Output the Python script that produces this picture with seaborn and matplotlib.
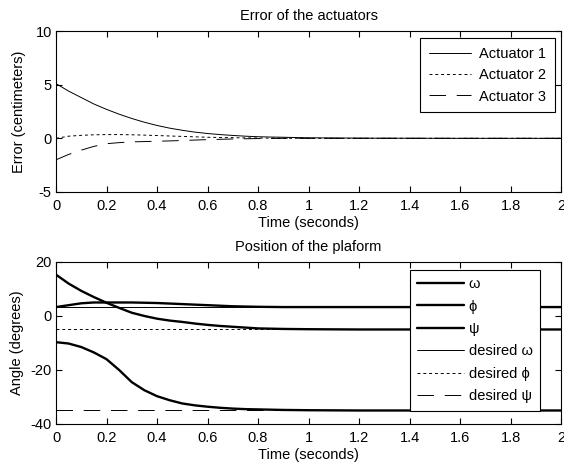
import numpy as np
import pandas as pd
import matplotlib
matplotlib.use("Agg")
import matplotlib.pyplot as plt
import seaborn as sns

# ---------------- data ----------------
t_err = [0, 0.05, 0.1, 0.15, 0.2, 0.25, 0.3, 0.35, 0.4, 0.45, 0.5, 0.55, 0.6,
         0.65, 0.7, 0.75, 0.8, 0.85, 0.9, 1.0, 1.2, 1.4, 1.6, 1.8, 2.0]
act1 = [5.1, 4.4, 3.8, 3.2, 2.7, 2.25, 1.85, 1.5, 1.2, 0.95, 0.75, 0.58, 0.45,
        0.35, 0.27, 0.2, 0.15, 0.12, 0.1, 0.05, 0.02, 0.01, 0, 0, 0]
act2 = [0, 0.2, 0.28, 0.33, 0.35, 0.35, 0.33, 0.3, 0.26, 0.22, 0.18, 0.14, 0.1,
        0.08, 0.06, 0.04, 0.03, 0.02, 0.01, 0, 0, 0, 0, 0, 0]
act3 = [-2.0, -1.5, -1.1, -0.75, -0.5, -0.4, -0.33, -0.3, -0.27, -0.24, -0.2,
        -0.16, -0.12, -0.09, -0.06, -0.04, -0.02, -0.01, 0, 0, 0, 0, 0, 0, 0]
act_labels = ["Actuator 1", "Actuator 2", "Actuator 3"]

t_pos = [0, 0.05, 0.1, 0.15, 0.2, 0.25, 0.3, 0.35, 0.4, 0.45, 0.5, 0.55, 0.6,
         0.65, 0.7, 0.75, 0.8, 0.9, 1.0, 1.2, 1.5, 2.0]
omega = [3.3, 4.0, 4.7, 5.0, 5.0, 5.0, 5.0, 4.9, 4.8, 4.6, 4.4, 4.2, 4.0,
         3.8, 3.6, 3.5, 3.4, 3.3, 3.3, 3.3, 3.3, 3.3]
phi = [15.3, 12.0, 9.3, 7.0, 4.9, 3.0, 1.2, 0.0, -1.0, -1.7, -2.2, -2.8, -3.3,
       -3.7, -4.0, -4.3, -4.6, -4.8, -4.9, -5.0, -5.0, -5.0]
psi = [-9.7, -10.2, -11.5, -13.5, -16.0, -20.0, -24.5, -27.5, -29.7, -31.2,
       -32.4, -33.1, -33.6, -34.0, -34.3, -34.5, -34.6, -34.8, -34.9, -35.0,
       -35.0, -35.0]
t_des = [0, 2.0]
des_omega = [3.3, 3.3]
des_phi = [-5.0, -5.0]
des_psi = [-35.0, -35.0]
pos_labels = ["ω", "ϕ", "ψ", "desired ω", "desired ϕ", "desired ψ"]
x_ticklabels = ["0", "0.2", "0.4", "0.6", "0.8", "1", "1.2", "1.4", "1.6", "1.8", "2"]

# ---------------- style ----------------
sns.set_style("ticks")
plt.rcParams["font.family"] = ["Liberation Sans", "DejaVu Sans"]
plt.rcParams["font.size"] = 10.5
plt.rcParams["axes.unicode_minus"] = False
plt.rcParams["xtick.direction"] = "in"
plt.rcParams["ytick.direction"] = "in"
plt.rcParams["xtick.top"] = True
plt.rcParams["ytick.right"] = True
plt.rcParams["xtick.major.size"] = 4
plt.rcParams["ytick.major.size"] = 4
plt.rcParams["xtick.major.width"] = 0.8
plt.rcParams["ytick.major.width"] = 0.8
plt.rcParams["xtick.major.pad"] = 5
plt.rcParams["ytick.major.pad"] = 3
plt.rcParams["axes.edgecolor"] = "black"
plt.rcParams["axes.linewidth"] = 0.8
plt.rcParams["xtick.color"] = "black"
plt.rcParams["ytick.color"] = "black"
plt.rcParams["text.color"] = "black"
plt.rcParams["axes.labelcolor"] = "black"

fig = plt.figure(figsize=(5.64, 4.70), dpi=100)
ax1 = fig.add_axes([0.0993, 0.5915, 0.8954, 0.3425])
ax2 = fig.add_axes([0.0993, 0.0979, 0.8954, 0.3447])

thin = 0.7
thick = 1.7
solid = "-"
dotted = (0, (3, 3))
dashed = (0, (17, 11))

# ---------------- top panel ----------------
for y, lab, ls in zip([act1, act2, act3], act_labels, [solid, dotted, dashed]):
    sns.lineplot(x=t_err, y=y, ax=ax1, color="black", linewidth=thin,
                 linestyle=ls, label=lab)
ax1.set_xlim(0, 2)
ax1.set_ylim(-5, 10)
ax1.set_xticks(np.arange(0, 2.01, 0.2))
ax1.set_xticklabels(x_ticklabels)
ax1.set_yticks([-5, 0, 5, 10])
ax1.set_title("Error of the actuators", fontsize=10.5, pad=8)
ax1.set_xlabel("Time (seconds)", labelpad=2)
ax1.set_ylabel("Error (centimeters)", labelpad=7)
leg1 = ax1.legend(loc="upper right", bbox_to_anchor=(0.988, 0.955),
                  frameon=True, fancybox=False, framealpha=1, edgecolor="black",
                  handlelength=2.9, handletextpad=0.55, labelspacing=0.5,
                  borderpad=0.6, borderaxespad=0)
leg1.get_frame().set_linewidth(0.8)

# ---------------- bottom panel ----------------
for y, lab in zip([omega, phi, psi], pos_labels[:3]):
    sns.lineplot(x=t_pos, y=y, ax=ax2, color="black", linewidth=thick,
                 linestyle=solid, label=lab, zorder=3)
for y, lab, ls in zip([des_omega, des_phi, des_psi], pos_labels[3:],
                      [solid, dotted, dashed]):
    sns.lineplot(x=t_des, y=y, ax=ax2, color="black", linewidth=thin,
                 linestyle=ls, label=lab, zorder=2)
ax2.set_xlim(0, 2)
ax2.set_ylim(-40, 20)
ax2.set_xticks(np.arange(0, 2.01, 0.2))
ax2.set_xticklabels(x_ticklabels)
ax2.set_yticks([-40, -20, 0, 20])
ax2.set_title("Position of the plaform", fontsize=10.5, pad=8)
ax2.set_xlabel("Time (seconds)", labelpad=2)
ax2.set_ylabel("Angle (degrees)", labelpad=5)
leg2 = ax2.legend(loc="upper right", bbox_to_anchor=(0.958, 0.952),
                  frameon=True, fancybox=False, framealpha=1, edgecolor="black",
                  handlelength=3.2, handletextpad=0.3, labelspacing=0.58,
                  borderpad=0.5, borderaxespad=0)
leg2.get_frame().set_linewidth(0.8)

fig.savefig("out.png", dpi=100)
